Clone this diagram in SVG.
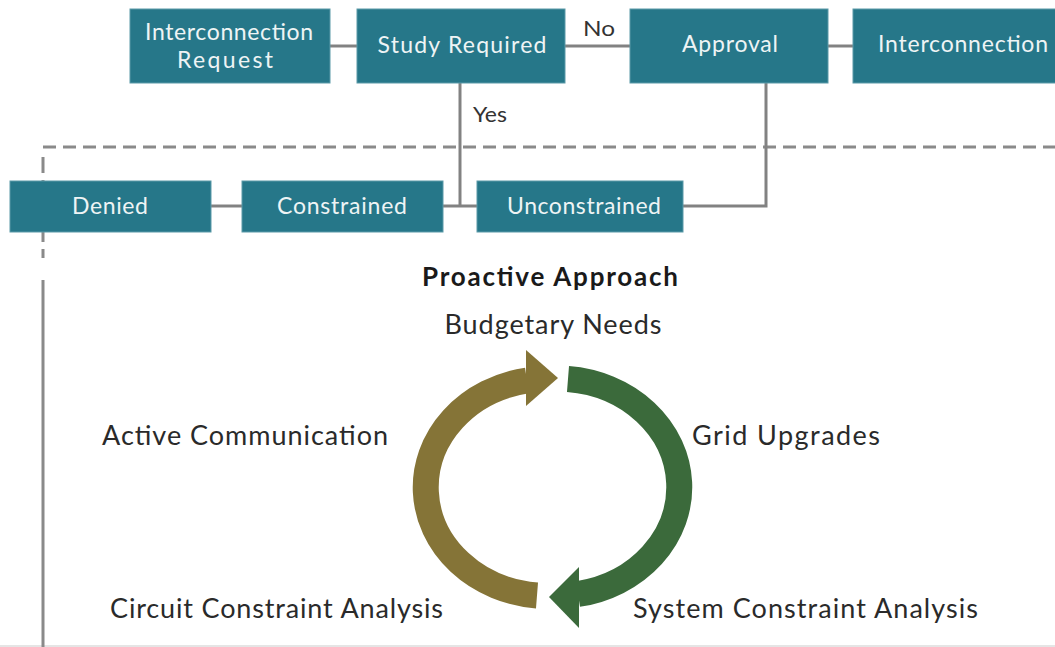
<svg xmlns="http://www.w3.org/2000/svg" width="1055" height="647" viewBox="0 0 1055 647">
<style>
.box{fill:#267789;stroke:#5b9aa8;stroke-width:1}
.bt{font-family:Lato,"Noto Sans",sans-serif;font-size:23px;fill:#eef4f5;text-anchor:middle}
.con{stroke:#828282;stroke-width:3;fill:none}
.lab{font-family:Lato,"Noto Sans",sans-serif;font-size:21px;fill:#333}
.cyc{font-family:Lato,"Noto Sans",sans-serif;font-size:27px;fill:#2a2a2a}
</style>
<rect width="1055" height="647" fill="#fff"/>
<line x1="0" y1="646" x2="1055" y2="646" stroke="#dddddd" stroke-width="1.5"/>
<g id="frame">
<line x1="43" y1="147" x2="1055" y2="147" stroke="#8a8a8a" stroke-width="3" stroke-dasharray="13 7"/>
<line x1="43" y1="150" x2="43" y2="266" stroke="#8a8a8a" stroke-width="3" stroke-dasharray="0 7 16 7 16 7 16 7 16 7 2"/>
<line x1="43" y1="280" x2="43" y2="647" stroke="#8a8a8a" stroke-width="3"/>
</g>
<g id="connectors">
<line class="con" x1="330" y1="46" x2="357" y2="46"/>
<line class="con" x1="565" y1="46" x2="630" y2="46"/>
<line class="con" x1="828" y1="46" x2="853" y2="46"/>
<line class="con" x1="460" y1="83" x2="460" y2="207"/>
<line class="con" x1="443" y1="206" x2="477" y2="206"/>
<polyline class="con" points="766,83 766,206 683,206"/>
<line class="con" x1="211" y1="206" x2="242" y2="206"/>
<text class="lab" x="583" y="36" textLength="32" lengthAdjust="spacingAndGlyphs">No</text>
<text class="lab" x="473" y="122" textLength="34" lengthAdjust="spacingAndGlyphs">Yes</text>
</g>
<g id="n-request"><rect class="box" x="130" y="9" width="200" height="74"/><text class="bt" x="229" y="40" textLength="168">Interconnection</text><text class="bt" x="225" y="68" textLength="96">Request</text></g>
<g id="n-study"><rect class="box" x="357" y="9" width="208" height="74"/><text class="bt" x="462" y="53" textLength="169">Study Required</text></g>
<g id="n-approval"><rect class="box" x="630" y="9" width="198" height="74"/><text class="bt" x="730" y="52" textLength="96">Approval</text></g>
<g id="n-interconnection"><rect class="box" x="853" y="9" width="210" height="74"/><text class="bt" x="963" y="52" textLength="170">Interconnection</text></g>
<g id="n-denied"><rect class="box" x="10" y="181" width="201" height="51"/><text class="bt" x="110" y="214" textLength="76">Denied</text></g>
<g id="n-constrained"><rect class="box" x="242" y="181" width="201" height="51"/><text class="bt" x="342" y="214" textLength="130">Constrained</text></g>
<g id="n-unconstrained"><rect class="box" x="477" y="181" width="206" height="51"/><text class="bt" x="584" y="214" textLength="154">Unconstrained</text></g>
<g id="cycle">
<text x="550" y="286" text-anchor="middle" font-family="Lato,'Noto Sans',sans-serif" font-weight="bold" font-size="26" fill="#1a1a1a" textLength="256">Proactive Approach</text>
<text class="cyc" x="553" y="334" text-anchor="middle" textLength="217">Budgetary Needs</text>
<text class="cyc" x="102" y="445" textLength="286">Active Communication</text>
<text class="cyc" x="692" y="445" textLength="188">Grid Upgrades</text>
<text class="cyc" x="110" y="618" textLength="333">Circuit Constraint Analysis</text>
<text class="cyc" x="633" y="618" textLength="345">System Constraint Analysis</text>
<path d="M537,595.5 A122,108.5 0 0 1 527,380.5" fill="none" stroke="#857437" stroke-width="26"/>
<polygon points="526,350 558,378 526,406" fill="#857437"/>
<path d="M568,379 A122,108.5 0 0 1 578,594" fill="none" stroke="#3b6a3b" stroke-width="26"/>
<polygon points="579,567 549,597 579,628" fill="#3b6a3b"/>
</g>
</svg>
